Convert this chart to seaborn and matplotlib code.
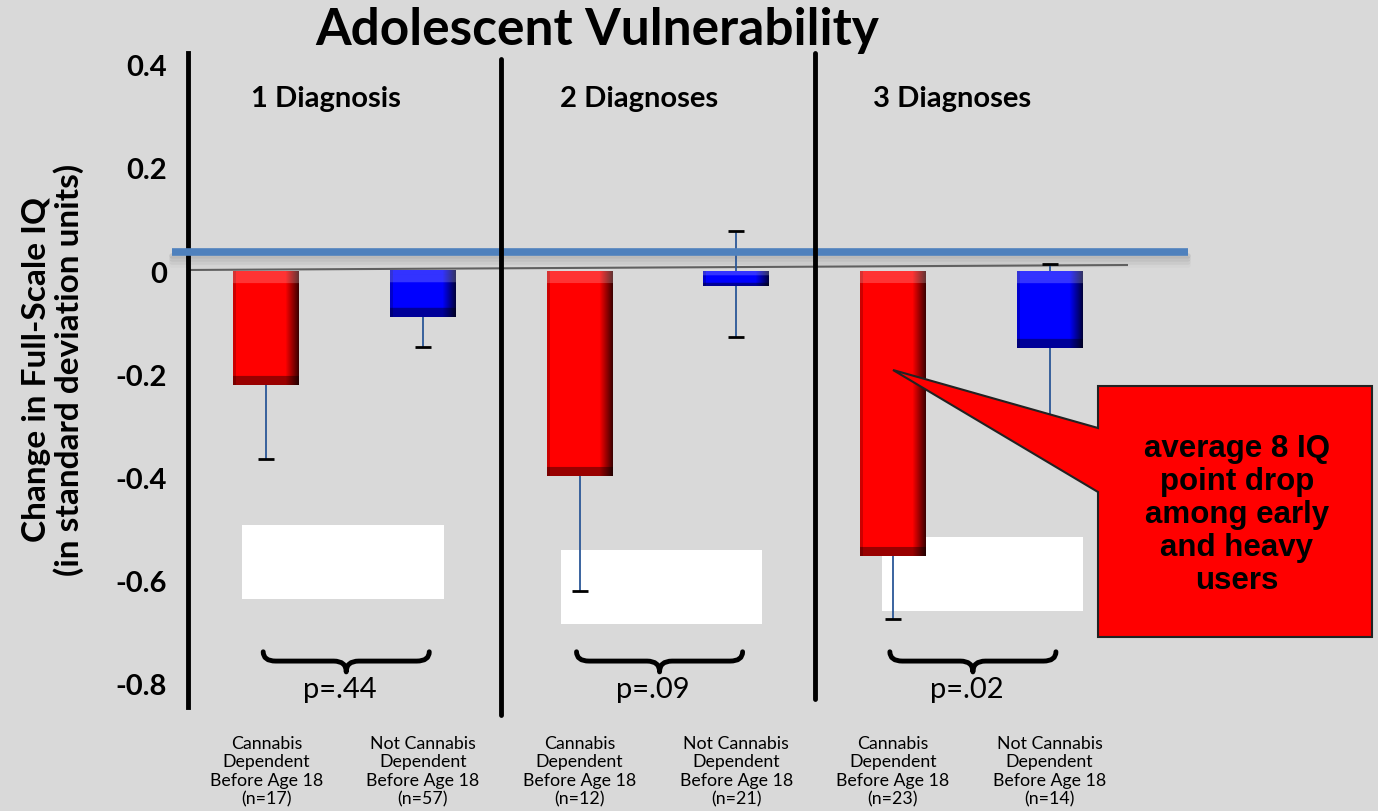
import matplotlib
matplotlib.use("Agg")
import matplotlib.pyplot as plt
import numpy as np
import pandas as pd
import seaborn as sns
from matplotlib.colors import to_rgb
from matplotlib.patches import Polygon, Rectangle, PathPatch
from matplotlib.path import Path

# ---- data ----
categories = [
    "Cannabis\nDependent\nBefore Age 18\n(n=17)",
    "Not Cannabis\nDependent\nBefore Age 18\n(n=57)",
    "Cannabis\nDependent\nBefore Age 18\n(n=12)",
    "Not Cannabis\nDependent\nBefore Age 18\n(n=21)",
    "Cannabis\nDependent\nBefore Age 18\n(n=23)",
    "Not Cannabis\nDependent\nBefore Age 18\n(n=14)",
]
status = ["Dependent", "Not dependent"] * 3
iq_change = [-0.22, -0.09, -0.397, -0.029, -0.552, -0.149]
err_low = [-0.365, -0.147, -0.62, -0.128, -0.674, -0.31]
err_high = [None, None, None, 0.078, None, 0.014]
groups = ["1 Diagnosis", "2 Diagnoses", "3 Diagnoses"]
p_values = ["p=.44", "p=.09", "p=.02"]
y_ticks = [0.4, 0.2, 0, -0.2, -0.4, -0.6, -0.8]
y_ticklabels = ["0.4", "0.2", "0", "-0.2", "-0.4", "-0.6", "-0.8"]
callout_text = "average 8 IQ\npoint drop\namong early\nand heavy\nusers"

BG = "#d9d9d9"
W, H = 1378, 812

sns.set_style("white")
plt.rcParams["font.family"] = ["Lato", "DejaVu Sans"]
plt.rcParams.update({"text.color": "black", "xtick.color": "black",
                     "ytick.color": "black", "axes.labelcolor": "black"})

df = pd.DataFrame({"group": categories, "status": status, "change": iq_change})

fig = plt.figure(figsize=(W / 100, H / 100), dpi=100, facecolor=BG)
ax = fig.add_axes([188 / W, 1 - 708 / H, (1128 - 188) / W, (708 - 54) / H])
ax.set_facecolor(BG)


def fig_xy(px, py):
    return px / W, 1 - py / H


# white masks sitting behind the bars
for x0, x1, y0, y1 in [(-0.155, 1.131, -0.636, -0.492),
                       (1.880, 3.166, -0.684, -0.541),
                       (3.927, 5.213, -0.659, -0.516)]:
    ax.add_patch(Rectangle((x0, y0), x1 - x0, y1 - y0, facecolor="white",
                           edgecolor="none", zorder=0.5))

n_before = len(ax.patches)
sns.barplot(data=df, x="group", y="change", hue="status",
            palette={"Dependent": "#ff0000", "Not dependent": "#0000ff"},
            saturation=1, dodge=False, width=0.42, legend=False, ax=ax,
            zorder=2, edgecolor="none", errorbar=None)

# bevel-like shading on every bar, using the bar's own colour
for patch in ax.patches[n_before:]:
    base = np.array(to_rgb(patch.get_facecolor()))
    x0, w = patch.get_x(), patch.get_width()
    y, h = patch.get_y(), patch.get_height()
    ytop, ybot = max(y, y + h), min(y, y + h)
    ny = max(int(abs(h) * 516), 6)
    nx = 66
    t = np.linspace(0, 1, nx)
    f = np.ones(nx)
    f[t > 0.8] = 1 - (t[t > 0.8] - 0.8) / 0.2 * 0.75
    f[t < 0.04] = 0.8
    img = base[None, None, :] * f[None, :, None] * np.ones((ny, 1, 1))
    top = min(12, ny // 3)
    img[:top] = img[:top] + (1 - img[:top]) * 0.2
    bot = min(9, ny // 4)
    img[-bot:] = img[-bot:] * 0.6
    ax.imshow(img, extent=[x0, x0 + w, ybot, ytop], aspect="auto",
              origin="upper", zorder=2.5, interpolation="bilinear")

# error bars (whisker + cap)
xs = np.arange(len(iq_change))
ax.vlines(xs, iq_change, err_low, color="#2b5797", lw=1.3, zorder=3)
ax.plot(xs, err_low, ls="none", marker="_", ms=12, mew=2, color="black", zorder=3)
for x, v, hi in zip(xs, iq_change, err_high):
    if hi is not None:
        ax.vlines(x, v, hi, color="#2b5797", lw=1.3, zorder=2.2)
        ax.plot(x, hi, ls="none", marker="_", ms=12, mew=2, color="black", zorder=3)

# reference lines
ax.plot([-0.5, 5.5], [0.002, 0.0116], color="#606060", lw=1.5, zorder=1.5)
for k, a in enumerate([0.25, 0.18, 0.12, 0.06]):
    ax.plot([-0.6, 5.88], [0.030 - k * 0.006] * 2, color="#888888", alpha=a,
            lw=4, clip_on=False, zorder=1)
ax.plot([-0.6, 5.88], [0.037, 0.037], color="#4f81bd", lw=5.5, clip_on=False,
        zorder=4, solid_capstyle="butt")

# group separators
ax.plot([1.5, 1.5], [0.41, -0.86], color="black", lw=3.5, clip_on=False, zorder=4)
ax.plot([3.5, 3.5], [0.422, -0.83], color="black", lw=3.5, clip_on=False, zorder=4)


def brace(xa, xb, y_end=-0.738, y_mid=-0.756, y_tip=-0.777, d=0.08):
    xc = (xa + xb) / 2
    verts = [(xa, y_end), (xa, y_mid), (xa + d, y_mid),
             (xc - d, y_mid), (xc, y_mid), (xc, y_tip),
             (xc, y_mid), (xc + d, y_mid),
             (xb - d, y_mid), (xb, y_mid), (xb, y_end)]
    codes = [Path.MOVETO, Path.CURVE3, Path.CURVE3,
             Path.LINETO, Path.CURVE3, Path.CURVE3,
             Path.CURVE3, Path.CURVE3,
             Path.LINETO, Path.CURVE3, Path.CURVE3]
    ax.add_patch(PathPatch(Path(verts, codes), facecolor="none", edgecolor="black",
                           lw=3.5, capstyle="round", joinstyle="round", zorder=4))
    return xc


for g, (name, pv) in enumerate(zip(groups, p_values)):
    xc = brace(2 * g - 0.02, 2 * g + 1.04)
    ax.text(xc - 0.04, -0.81, pv, ha="center", va="center", fontsize=21)
    ax.text(2 * g + 0.38, 0.335, name, ha="center", va="center",
            fontsize=21, fontweight="bold")

ax.set_xlim(-0.5, 5.5)
ax.set_ylim(-0.845, 0.4225)
ax.set_yticks(y_ticks)
ax.set_yticklabels(y_ticklabels, fontsize=21, fontweight="bold")
ax.tick_params(axis="y", length=0, pad=15)
ax.tick_params(axis="x", length=0, pad=20, labelsize=12.8)
for lab in ax.get_xticklabels():
    lab.set_linespacing(1.2)
ax.set_xlabel("")
ax.set_ylabel("")
for side in ["top", "right", "bottom"]:
    ax.spines[side].set_visible(False)
ax.spines["left"].set_linewidth(3.5)
ax.spines["left"].set_color("black")

# titles
fig.text(*fig_xy(597, 30), "Adolescent Vulnerability", ha="center", va="center",
         fontsize=37, fontweight="bold")
fig.text(*fig_xy(53, 370), "Change in Full-Scale IQ\n(in standard deviation units)",
         ha="center", va="center", rotation=90, fontsize=24, fontweight="bold",
         multialignment="center", linespacing=1.1)

# callout
pts = [(1098, 387), (1372, 387), (1372, 638), (1098, 638), (1098, 493),
       (893, 371), (1098, 429)]
fig.add_artist(Polygon([fig_xy(x, y) for x, y in pts], closed=True,
                       transform=fig.transFigure, facecolor="#ff0000",
                       edgecolor="#222222", lw=1.5, zorder=5))
fig.text(*fig_xy(1237, 515), callout_text, ha="center", va="center",
         fontsize=22.5, fontweight="bold", family=["Liberation Sans", "DejaVu Sans"],
         linespacing=1.12, zorder=6)

fig.savefig("out.png", dpi=100, facecolor=BG)
